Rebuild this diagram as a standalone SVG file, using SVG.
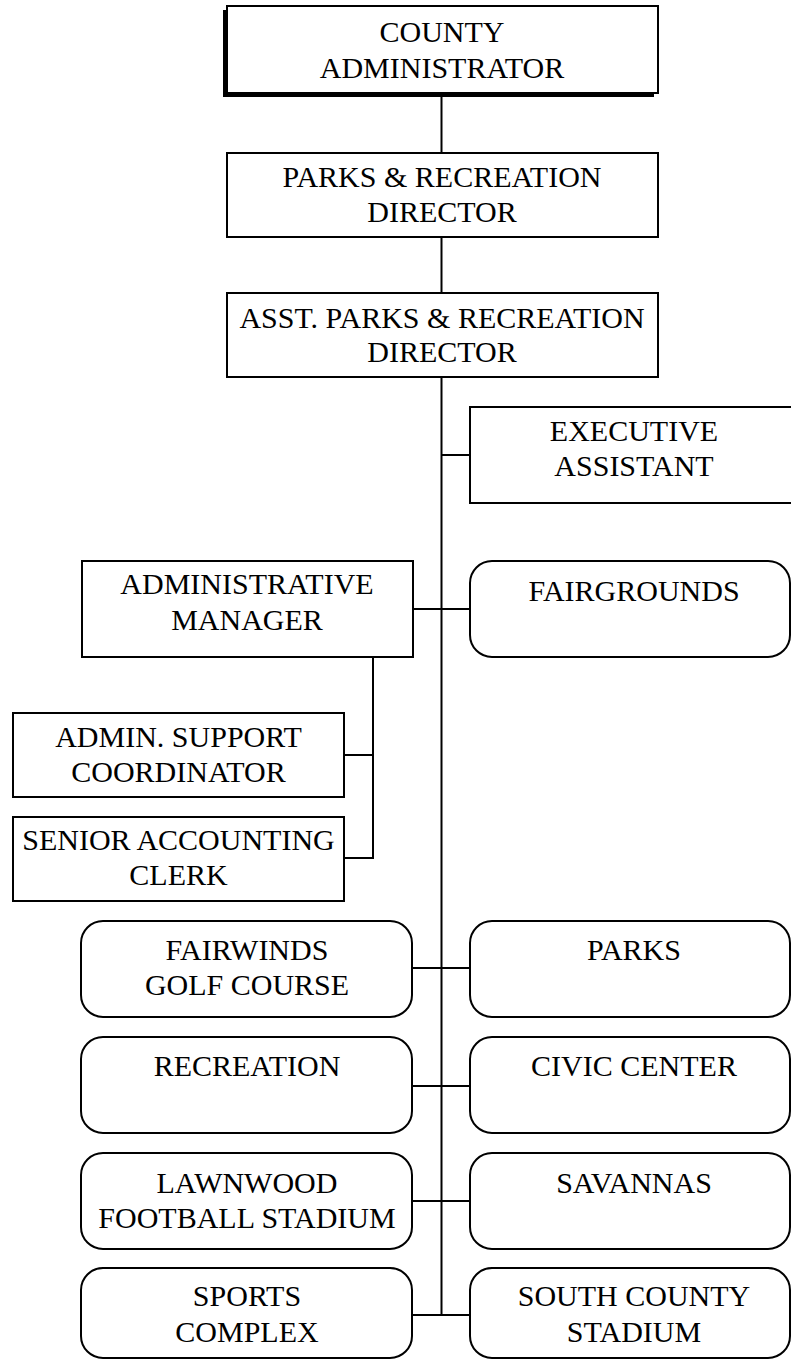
<svg xmlns="http://www.w3.org/2000/svg" width="791" height="1359" viewBox="0 0 791 1359">
  <style>
    .box { fill: #fff; stroke: #000; stroke-width: 2; }
    .lbl { font-family: "Liberation Serif", "Times New Roman", serif; font-size: 30px; fill: #000; text-anchor: middle; }
    .wire { stroke: #000; stroke-width: 2; fill: none; }
  </style>
  <rect width="791" height="1359" fill="#fff"/>

  <!-- connectors -->
  <g id="connectors" class="wire">
    <line x1="441.5" y1="93" x2="441.5" y2="153"/>
    <line x1="441.5" y1="237" x2="441.5" y2="293"/>
    <line x1="441.5" y1="377" x2="441.5" y2="1315"/>
    <line x1="441.5" y1="455" x2="470" y2="455"/>
    <line x1="413" y1="609" x2="470" y2="609"/>
    <line x1="373" y1="657" x2="373" y2="858"/>
    <line x1="344" y1="755" x2="373" y2="755"/>
    <line x1="344" y1="858" x2="374" y2="858"/>
    <line x1="412" y1="968" x2="470" y2="968"/>
    <line x1="412" y1="1086" x2="470" y2="1086"/>
    <line x1="412" y1="1201" x2="470" y2="1201"/>
    <line x1="412" y1="1315" x2="470" y2="1315"/>
  </g>

  <!-- top of the chain -->
  <g id="county-administrator">
    <rect x="223" y="10" width="431" height="87" fill="#000"/>
    <rect class="box" x="227" y="6" width="431" height="87"/>
    <text class="lbl" x="442" y="42">COUNTY</text>
    <text class="lbl" x="442" y="78">ADMINISTRATOR</text>
  </g>
  <g id="parks-recreation-director">
    <rect class="box" x="227" y="153" width="431" height="84"/>
    <text class="lbl" x="442" y="187">PARKS &amp; RECREATION</text>
    <text class="lbl" x="442" y="222">DIRECTOR</text>
  </g>
  <g id="asst-director">
    <rect class="box" x="227" y="293" width="431" height="84"/>
    <text class="lbl" x="442" y="328">ASST. PARKS &amp; RECREATION</text>
    <text class="lbl" x="442" y="362">DIRECTOR</text>
  </g>

  <!-- staff -->
  <g id="executive-assistant">
    <rect class="box" x="470" y="407" width="325" height="96"/>
    <text class="lbl" x="634" y="441">EXECUTIVE</text>
    <text class="lbl" x="634" y="476">ASSISTANT</text>
  </g>
  <g id="administrative-manager">
    <rect class="box" x="82" y="561" width="331" height="96"/>
    <text class="lbl" x="247" y="594">ADMINISTRATIVE</text>
    <text class="lbl" x="247" y="630">MANAGER</text>
  </g>
  <g id="fairgrounds">
    <rect class="box" x="470" y="561" width="320" height="96" rx="22" ry="22"/>
    <text class="lbl" x="634" y="601">FAIRGROUNDS</text>
  </g>
  <g id="admin-support-coordinator">
    <rect class="box" x="13" y="713" width="331" height="84"/>
    <text class="lbl" x="178.5" y="747">ADMIN. SUPPORT</text>
    <text class="lbl" x="178.5" y="782">COORDINATOR</text>
  </g>
  <g id="senior-accounting-clerk">
    <rect class="box" x="13" y="817" width="331" height="84"/>
    <text class="lbl" x="178.5" y="850">SENIOR ACCOUNTING</text>
    <text class="lbl" x="178.5" y="885">CLERK</text>
  </g>

  <!-- divisions -->
  <g id="fairwinds-golf-course">
    <rect class="box" x="81" y="921" width="331" height="96" rx="22" ry="22"/>
    <text class="lbl" x="247" y="960">FAIRWINDS</text>
    <text class="lbl" x="247" y="995">GOLF COURSE</text>
  </g>
  <g id="parks">
    <rect class="box" x="470" y="921" width="320" height="96" rx="22" ry="22"/>
    <text class="lbl" x="634" y="960">PARKS</text>
  </g>
  <g id="recreation">
    <rect class="box" x="81" y="1037" width="331" height="96" rx="22" ry="22"/>
    <text class="lbl" x="247" y="1076">RECREATION</text>
  </g>
  <g id="civic-center">
    <rect class="box" x="470" y="1037" width="320" height="96" rx="22" ry="22"/>
    <text class="lbl" x="634" y="1076">CIVIC CENTER</text>
  </g>
  <g id="lawnwood-football-stadium">
    <rect class="box" x="81" y="1153" width="331" height="96" rx="22" ry="22"/>
    <text class="lbl" x="247" y="1193">LAWNWOOD</text>
    <text class="lbl" x="247" y="1228">FOOTBALL STADIUM</text>
  </g>
  <g id="savannas">
    <rect class="box" x="470" y="1153" width="320" height="96" rx="22" ry="22"/>
    <text class="lbl" x="634" y="1193">SAVANNAS</text>
  </g>
  <g id="sports-complex">
    <rect class="box" x="81" y="1268" width="331" height="90" rx="22" ry="22"/>
    <text class="lbl" x="247" y="1306">SPORTS</text>
    <text class="lbl" x="247" y="1342">COMPLEX</text>
  </g>
  <g id="south-county-stadium">
    <rect class="box" x="470" y="1268" width="320" height="90" rx="22" ry="22"/>
    <text class="lbl" x="634" y="1306">SOUTH COUNTY</text>
    <text class="lbl" x="634" y="1342">STADIUM</text>
  </g>
</svg>
